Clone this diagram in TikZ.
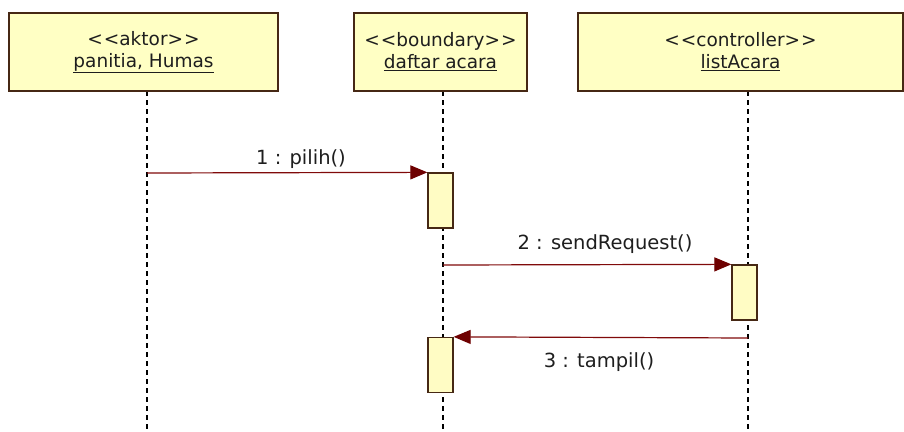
\documentclass[tikz,border=0pt]{standalone}
\usepackage{fontspec}
\setmainfont{DejaVu Sans}[Ligatures=NoCommon]
\usetikzlibrary{arrows.meta}
\definecolor{boxfill}{RGB}{255,255,196}
\definecolor{actfill}{RGB}{255,252,196}
\definecolor{boxline}{RGB}{70,40,20}
\definecolor{msgcol}{RGB}{128,10,10}
\definecolor{headcol}{RGB}{110,0,0}
\definecolor{txt}{RGB}{30,30,30}
\newcommand{\lt}{<\kern1pt<}
\newcommand{\gtt}{>\kern1pt>}
\tikzset{
  objbox/.style={draw=boxline,line width=1.3pt,fill=boxfill,minimum height=78pt,inner sep=0pt,
    align=center,text=txt,font=\fontsize{18.5}{22}\selectfont},
  actbox/.style={draw=boxline,line width=1.3pt,fill=actfill,minimum width=25pt,minimum height=55pt,inner sep=0pt},
  lifeline/.style={draw=black,line width=1.5pt,dash pattern=on 5pt off 4pt},
  msg/.style={draw=msgcol,line width=1.2pt,-{Triangle[length=17pt,width=14pt,fill=headcol,color=headcol]}},
  msglabel/.style={text=txt,font=\fontsize{19.5}{22}\selectfont,inner sep=0pt}
}
\begin{document}
\begin{tikzpicture}[x=1pt,y=-1pt]
\useasboundingbox (0,0) rectangle (904,431);
\fill[white] (0,0) rectangle (904,431);
% lifelines
\coordinate (l1t) at (147,91); \coordinate (l1b) at (147,431);
\coordinate (l2t) at (443,91); \coordinate (l2b) at (443,431);
\coordinate (l3t) at (748,91); \coordinate (l3b) at (748,431);
\draw[lifeline] (l1t) -- (l1b);
\draw[lifeline] (l2t) -- (l2b);
\draw[lifeline] (l3t) -- (l3b);
% objects
\node[objbox,minimum width=269pt] (o1) at (143.5,52) {\lt aktor\gtt\\\underline{panitia, Humas}};
\node[objbox,minimum width=173pt] (o2) at (440.5,52) {\lt boundary\gtt\\\underline{daftar acara}};
\node[objbox,minimum width=325pt] (o3) at (740.5,52) {\lt controller\gtt\\\underline{listAcara}};
% activations
\node[actbox] (a1) at (440.5,200.5) {};
\node[actbox] (a2) at (744.5,292.5) {};
\node[actbox] (a3) at (440.5,365) {};
% messages
\coordinate (m1s) at (147,173);
\coordinate (m2s) at (443,265);
\coordinate (m3s) at (748,338);
\draw[msg] (m1s) -- (a1.north west);
\draw[msg] (m2s) -- (a2.north west);
\draw[msg] (m3s) -- (a3.north east);
\node[msglabel] (t1) at (301,159) {1 : pilih()};
\node[msglabel] (t2) at (605,244) {2 : sendRequest()};
\node[msglabel] (t3) at (599,362) {3 : tampil()};
\end{tikzpicture}
\end{document}
